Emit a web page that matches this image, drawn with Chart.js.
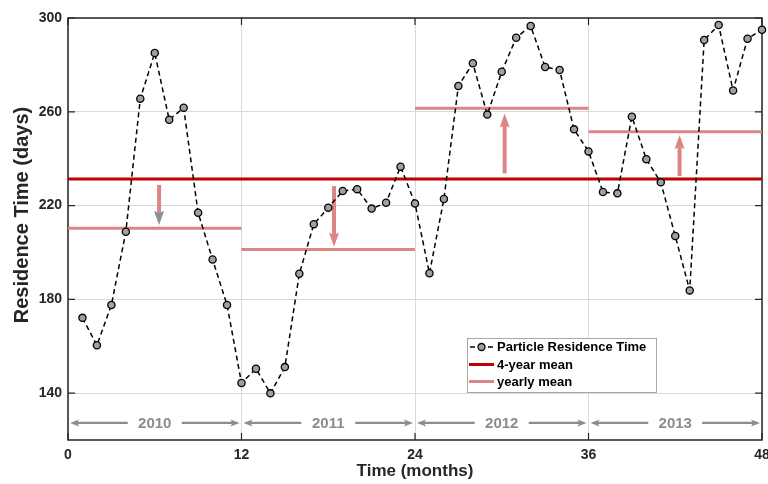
<!DOCTYPE html>
<html><head><meta charset="utf-8">
<script src="https://cdn.jsdelivr.net/npm/chart.js@4.4.0/dist/chart.umd.min.js"></script>
<style>html,body{margin:0;padding:0;background:#fff}#wrap{width:768px;height:484px}</style>
</head><body><div id="wrap"><canvas id="c" width="768" height="484"></canvas></div>
<script>
// ---------------- data ----------------
const months = [1,2,3,4,5,6,7,8,9,10,11,12,13,14,15,16,17,18,19,20,21,22,23,24,
  25,26,27,28,29,30,31,32,33,34,35,36,37,38,39,40,41,42,43,44,45,46,47,48];
const residence = [172.1,160.4,177.6,208.8,265.6,285.1,256.6,261.7,216.9,197.0,177.6,144.3,
  150.4,139.9,151.1,190.9,212.0,219.1,226.2,227.0,218.7,221.2,236.6,220.9,
  191.1,222.8,271.0,280.7,258.8,277.1,291.6,296.6,279.1,277.8,252.5,243.1,
  225.8,225.2,257.9,239.8,229.9,207.0,183.8,290.6,297.0,269.1,291.2,295.0];
const overallMean = 231.3;
const years = ['2010','2011','2012','2013'];
const yearStart = [0,12,24,36];
const yearEnd = [12,24,36,48];
const yearlyMean = [210.3,201.3,261.5,251.5];
const arrowX = [6.3,18.4,30.2,42.3];
const arrowFrom = [228.8,228.3,233.7,232.6];
const arrowTo = [211.7,202.4,259.3,250.1];
const yTicks = [140,180,220,260,300];
const xTicks = [0,12,24,36,48];
const yearBandY = 127.3;
const labels = ['Particle Residence Time','4-year mean','yearly mean'];
const yTitle = 'Residence Time (days)';
const xTitle = 'Time (months)';

// ---------------- styles ----------------
const FONT = '"Liberation Sans", Arial, Helvetica, sans-serif';
const DARKRED = '#c00000';
const PINK = '#dc8585';
const AXIS = '#262626';
const GRAY = '#8c8c8c';

const residencePts = months.map((m,i)=>({x:m,y:residence[i]}));
const meanPts = [{x:0,y:overallMean},{x:48,y:overallMean}];
const yearlyPts = [];
yearlyMean.forEach((v,i)=>{
  if(i>0) yearlyPts.push({x:yearStart[i],y:null});
  yearlyPts.push({x:yearStart[i],y:v});
  yearlyPts.push({x:yearEnd[i],y:v});
});

function arrow(ctx, x1, y1, x2, y2, shaftW, headL, headW, color, headColor){
  const dir = Math.sign(y2-y1);
  const yb = y2 - dir*headL;
  ctx.save();
  ctx.strokeStyle = color; ctx.lineWidth = shaftW; ctx.lineCap='butt';
  ctx.beginPath(); ctx.moveTo(x1,y1); ctx.lineTo(x2,yb+dir*1); ctx.stroke();
  ctx.fillStyle = headColor || color;
  ctx.beginPath();
  ctx.moveTo(x2,y2);
  ctx.lineTo(x2-headW/2, yb - dir*2);
  ctx.lineTo(x2, yb);
  ctx.lineTo(x2+headW/2, yb - dir*2);
  ctx.closePath(); ctx.fill();
  ctx.restore();
}

const decor = {
  id:'decor',
  beforeDatasetsDraw(chart){
    const {ctx, chartArea:a, scales:{x,y}} = chart;
    ctx.save();
    // box
    ctx.strokeStyle = AXIS; ctx.lineWidth = 1.5;
    ctx.strokeRect(a.left, a.top, a.right-a.left, a.bottom-a.top);
    // inward ticks
    ctx.lineWidth = 1.2;
    ctx.beginPath();
    xTicks.forEach(t=>{const px=x.getPixelForValue(t);
      ctx.moveTo(px,a.bottom); ctx.lineTo(px,a.bottom-7);
      ctx.moveTo(px,a.top); ctx.lineTo(px,a.top+7);});
    yTicks.forEach(t=>{const py=y.getPixelForValue(t);
      ctx.moveTo(a.left,py); ctx.lineTo(a.left+7,py);
      ctx.moveTo(a.right,py); ctx.lineTo(a.right-7,py);});
    ctx.stroke();
    ctx.restore();
    // y-axis title
    ctx.save();
    ctx.translate(22, 215); ctx.rotate(-Math.PI/2);
    ctx.font = 'bold 20px '+FONT; ctx.fillStyle = AXIS;
    ctx.textAlign='center'; ctx.textBaseline='middle';
    ctx.fillText(yTitle, 0, 0);
    ctx.restore();
    // mean-difference arrows
    arrowX.forEach((m,i)=>{
      const px = x.getPixelForValue(m);
      arrow(ctx, px, y.getPixelForValue(arrowFrom[i]), px, y.getPixelForValue(arrowTo[i]),
        4, 12, 10, PINK, i===0 ? '#909090' : PINK);
    });
    // year span arrows
    ctx.save();
    ctx.font = 'bold 15px '+FONT;
    ctx.textAlign='center'; ctx.textBaseline='middle';
    const py = y.getPixelForValue(yearBandY);
    years.forEach((yr,i)=>{
      const x0 = x.getPixelForValue(yearStart[i])+2, x1 = x.getPixelForValue(yearEnd[i])-2;
      const xc = (x0+x1)/2;
      const half = 27;
      ctx.strokeStyle = GRAY; ctx.fillStyle = GRAY; ctx.lineWidth = 2.2;
      ctx.beginPath();
      ctx.moveTo(x0+6,py); ctx.lineTo(xc-half,py);
      ctx.moveTo(xc+half,py); ctx.lineTo(x1-6,py);
      ctx.stroke();
      ctx.beginPath(); ctx.moveTo(x0,py); ctx.lineTo(x0+9,py-3.5); ctx.lineTo(x0+7,py); ctx.lineTo(x0+9,py+3.5); ctx.closePath(); ctx.fill();
      ctx.beginPath(); ctx.moveTo(x1,py); ctx.lineTo(x1-9,py-3.5); ctx.lineTo(x1-7,py); ctx.lineTo(x1-9,py+3.5); ctx.closePath(); ctx.fill();
      ctx.fillText(yr, xc, py+1);
    });
    ctx.restore();
  },
  afterDraw(chart){
    const ctx = chart.ctx;
    const bx=467, by=338, bw=189, bh=54;
    ctx.save();
    ctx.fillStyle='#fff'; ctx.fillRect(bx,by,bw,bh);
    ctx.strokeStyle='#a8a8a8'; ctx.lineWidth=1; ctx.strokeRect(bx+0.5,by+0.5,bw,bh);
    const rows=[347,364.5,381.5];
    const ds = chart.data.datasets;
    // row 1
    ctx.strokeStyle='#000'; ctx.lineWidth=1.5;
    ctx.beginPath(); ctx.moveTo(470,rows[0]); ctx.lineTo(475,rows[0]); ctx.moveTo(488,rows[0]); ctx.lineTo(493,rows[0]); ctx.stroke();
    ctx.beginPath(); ctx.arc(481.5,rows[0],3.5,0,Math.PI*2); ctx.fillStyle='#a0a0a0'; ctx.fill(); ctx.lineWidth=1.3; ctx.stroke();
    // rows 2,3
    [[1,DARKRED],[2,PINK]].forEach(([k,c])=>{
      ctx.strokeStyle=c; ctx.lineWidth=3;
      ctx.beginPath(); ctx.moveTo(469,rows[k]); ctx.lineTo(494,rows[k]); ctx.stroke();
    });
    ctx.fillStyle='#000'; ctx.font='bold 13px '+FONT; ctx.textBaseline='middle'; ctx.textAlign='left';
    ds.forEach((d,k)=>ctx.fillText(d.label, 497, rows[k]+0.5));
    ctx.restore();
  }
};

new Chart(document.getElementById('c'), {
  type:'line',
  data:{datasets:[
    {label:labels[0], data:residencePts, borderColor:'#000', borderWidth:1.5, borderDash:[5,3.5],
     pointRadius:3.6, pointBorderWidth:1.3, pointBackgroundColor:'#a0a0a0', pointBorderColor:'#000',
     tension:0, clip:false, order:0},
    {label:labels[1], data:meanPts, borderColor:DARKRED, borderWidth:3, pointRadius:0, order:2},
    {label:labels[2], data:yearlyPts, borderColor:PINK, borderWidth:3, pointRadius:0, spanGaps:false, order:1}
  ]},
  options:{
    responsive:false, animation:false, devicePixelRatio:1,
    layout:{padding:{top:18,right:6,left:0,bottom:0}},
    plugins:{legend:{display:false}, tooltip:{enabled:false}},
    scales:{
      x:{type:'linear', min:0, max:48,
        afterBuildTicks(s){s.ticks = xTicks.map(v=>({value:v}));},
        afterFit(s){s.height=44; s.paddingLeft=0; s.paddingRight=0;},
        grid:{color:'#d9d9d9', lineWidth:1, drawTicks:false},
        border:{display:false},
        ticks:{autoSkip:false, maxRotation:0, padding:7, color:AXIS, font:{family:FONT, size:14, weight:'bold'}},
        title:{display:true, text:xTitle, color:AXIS, padding:{top:0,bottom:2}, font:{family:FONT, size:17, weight:'bold'}}
      },
      y:{type:'linear', min:120, max:300,
        afterBuildTicks(s){s.ticks = yTicks.map(v=>({value:v}));},
        afterFit(s){s.width=68; s.paddingTop=0; s.paddingBottom=0;},
        grid:{color:'#d9d9d9', lineWidth:1, drawTicks:false},
        border:{display:false},
        ticks:{padding:6, color:AXIS, font:{family:FONT, size:14, weight:'bold'}},
        title:{display:false}
      }
    }
  },
  plugins:[decor]
});
</script></body></html>
